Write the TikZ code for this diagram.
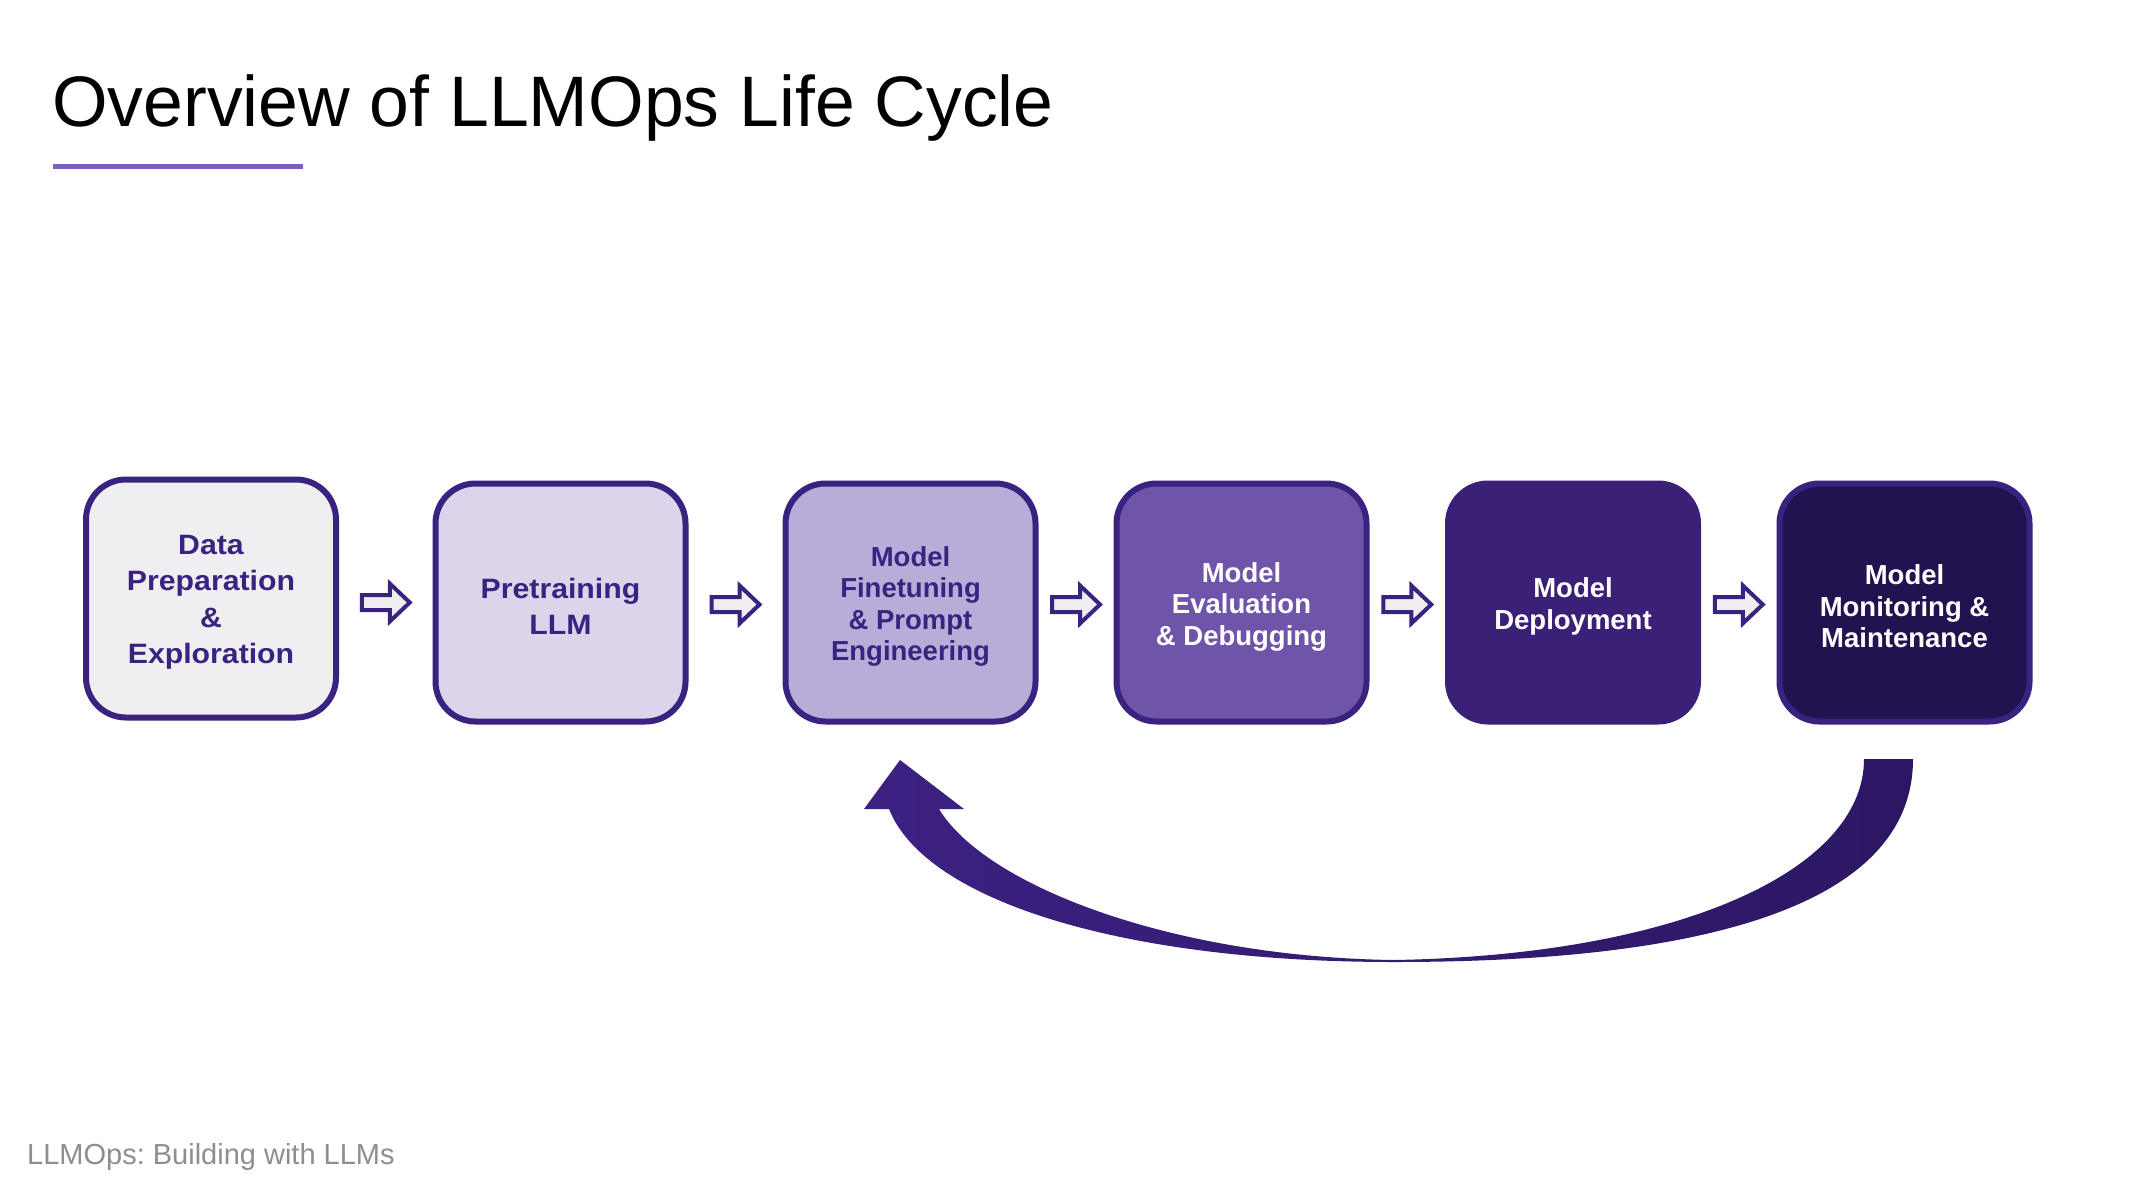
\documentclass[tikz,border=0pt]{standalone}
\usepackage{fontspec}
\setmainfont{Liberation Sans}
\newfontfamily\boxfont[FakeStretch=1.08]{Liberation Sans}
\usetikzlibrary{calc}
\frenchspacing
\definecolor{border}{HTML}{3A2380}
\definecolor{textdark}{HTML}{3A2380}
\definecolor{fillA}{HTML}{EFEFF1}
\definecolor{fillB}{HTML}{DCD4EA}
\definecolor{fillC}{HTML}{B8ACD8}
\definecolor{fillD}{HTML}{6E55A9}
\definecolor{fillE}{HTML}{3A2077}
\definecolor{fillF}{HTML}{22124F}
\definecolor{arrowfill}{HTML}{EEEEEE}
\definecolor{underline}{HTML}{7A61BF}
\definecolor{footgray}{HTML}{8E8E8E}
\definecolor{bigL}{HTML}{3C2182}
\definecolor{bigR}{HTML}{2B1763}
\begin{document}
\frenchspacing
\begin{tikzpicture}[x=1pt,y=-1pt,
  stage/.style={rectangle, rounded corners=40pt, draw=border, line width=6pt,
    minimum width=250pt, minimum height=238pt, inner sep=0pt},
  txtA/.style={align=center, inner sep=0pt, text=textdark, font=\boxfont\bfseries\fontsize{28}{36.5}\selectfont},
  txtB/.style={align=center, inner sep=0pt, text=textdark, font=\bfseries\fontsize{27.5}{31.5}\selectfont},
  txtW/.style={align=center, inner sep=0pt, text=white, font=\bfseries\fontsize{27.5}{31.5}\selectfont},
  smallarrow/.style={draw=border, fill=arrowfill, line width=4pt, line join=miter}
]
\useasboundingbox (0,0) rectangle (2136,1178);
\fill[white] (0,0) rectangle (2136,1178);

% title
\node[anchor=base west, inner sep=0pt, font=\fontsize{71.5}{80}\selectfont] (title) at (52,126) {Overview of LLMOps Life Cycle};
\draw[underline, line width=5pt] (53,166.5) -- (303,166.5);

% stages
\node[stage, fill=fillA] (b1) at (211,598.5) {};
\node[stage, fill=fillB] (b2) at (560.5,602.5) {};
\node[stage, fill=fillC] (b3) at (910.5,602.5) {};
\node[stage, fill=fillD] (b4) at (1241.5,602.5) {};
\node[stage, fill=fillE, draw=fillE] (b5) at (1573,602.5) {};
\node[stage, fill=fillF] (b6) at (1904.5,602.5) {};

\node[txtA] (t1) at ($(b1.center)+(0,4)$) {Data\\Preparation\\\&\\Exploration};
\node[txtA] (t2) at ($(b2.center)+(0,4)$) {Pretraining\\LLM};
\node[txtB] (t3) at ($(b3.center)+(0,4)$) {Model\\Finetuning\\\& Prompt\\Engineering};
\node[txtW] (t4) at ($(b4.center)+(0,4)$) {Model\\Evaluation\\\& Debugging};
\node[txtW] (t5) at ($(b5.center)+(0,4)$) {Model\\Deployment};
\node[txtW] (t6) at ($(b6.center)+(0,4)$) {Model\\Monitoring \&\\Maintenance};

% small block arrows between stages
\foreach \a/\b/\n in {b1/b2/m1, b2/b3/m2, b3/b4/m3, b4/b5/m4, b5/b6/m5}{
  \coordinate (\n) at ($(\a.east)!0.5!(\b.west)+(0,2)$);
  \draw[smallarrow] ($(\n)+(-24,-7.5)$) -- ($(\n)+(4,-7.5)$) -- ($(\n)+(4,-19)$)
    -- ($(\n)+(24,0)$) -- ($(\n)+(4,19)$) -- ($(\n)+(4,7.5)$) -- ($(\n)+(-24,7.5)$) -- cycle;
}

% big feedback arrow from monitoring back to finetuning
\coordinate (tip) at (900,760);
\coordinate (tailin) at (1864,759);
\coordinate (tailout) at (1913,759);
\shade[left color=bigL, right color=bigR]
  (tip) -- (964,809) -- (939,809)
  .. controls (985,885) and (1170,957) .. (1394,960)
  .. controls (1680,955) and (1864,870) .. (tailin)
  -- (tailout)
  .. controls (1913,900) and (1720,962) .. (1394,962)
  .. controls (1120,962) and (925,900) .. (889,809)
  -- (864,809) -- cycle;

% footer
\node[anchor=base west, inner sep=0pt, text=footgray, font=\fontsize{29}{34}\selectfont] (footer) at (27,1164) {LLMOps: Building with LLMs};
\end{tikzpicture}
\end{document}
